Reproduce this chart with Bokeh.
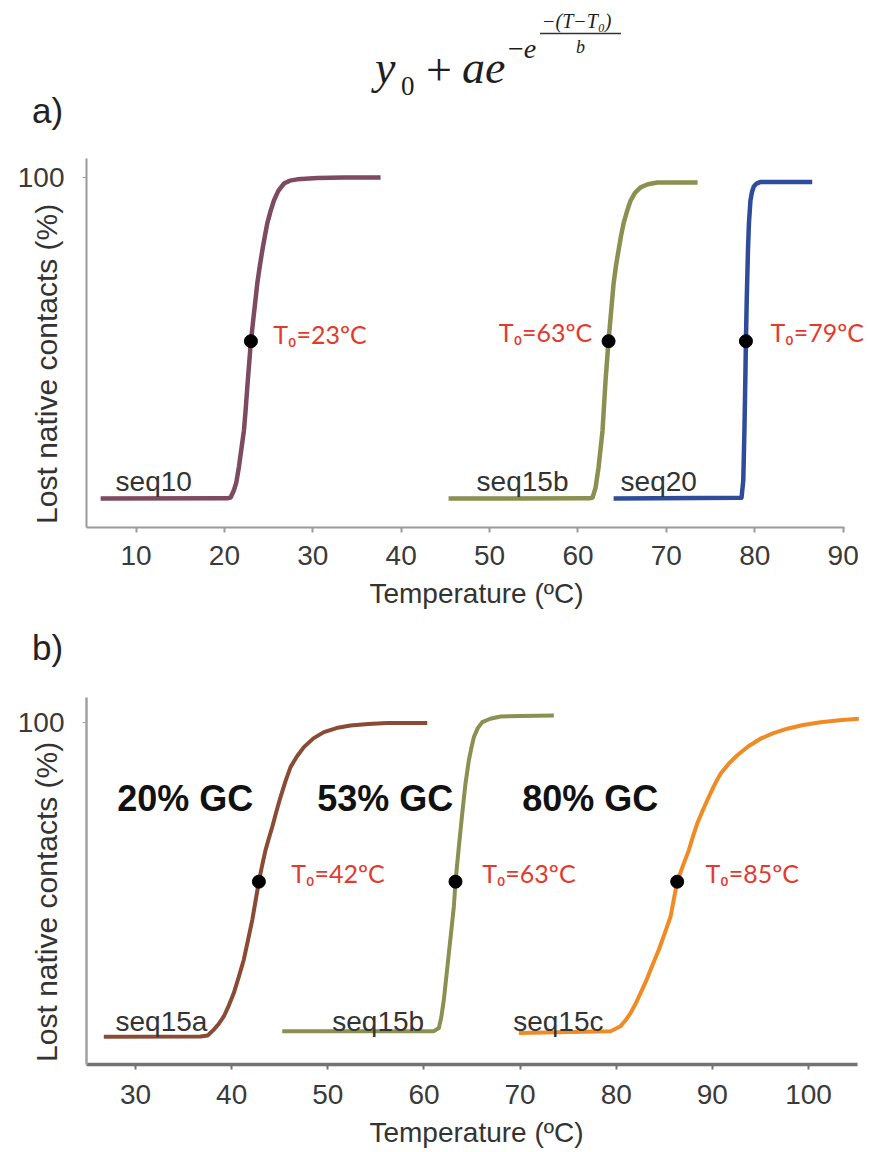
from bokeh.plotting import figure
from bokeh.layouts import column
from bokeh.models import Range1d, FixedTicker, Div
from bokeh.core.properties import value
from bokeh.embed import file_html
from bokeh.resources import INLINE

# ---------------- data: panel a ----------------
seq10_T = [6.0, 20.3, 20.7, 21.07, 21.35, 21.64, 21.9, 22.21, 22.4, 22.6, 23.0, 23.3, 23.5, 23.72, 24.0,
           24.29, 24.55, 24.85, 25.2, 25.6, 26.1, 26.73, 27.4, 28.24, 30.5, 33.5, 37.67]
seq10_y = [0, 0.05, 0.3, 2.5, 5.0, 9.8, 15.0, 21.2, 27.5, 35.0, 49.0, 56.5, 61.5, 67.0, 72.3,
           77.3, 81.3, 85.7, 89.3, 92.8, 95.8, 98.1, 99.0, 99.4, 99.8, 99.95, 100]

seq15b_a_T = [45.36, 61.3, 61.65, 61.99, 62.33, 62.78, 63.12, 63.46, 63.69, 64.03, 64.3, 64.59, 64.87,
              65.16, 65.55, 65.95, 66.45, 67.08, 67.9, 69.0, 71.0, 73.53]
seq15b_a_y = [0, 0.05, 0.3, 3.4, 9.7, 21.2, 36.8, 49.2, 56.4, 67.0, 72.5, 77.3, 81.8,
              85.7, 89.5, 92.8, 95.2, 96.9, 97.9, 98.4, 98.4, 98.4]

seq20_T = [64.03, 78.5, 78.70, 78.83, 78.93, 79.0, 79.09, 79.23, 79.34, 79.51, 79.68, 79.89, 80.2, 80.66, 86.5]
seq20_y = [0, 0.2, 5.6, 21.2, 36.8, 49.2, 61.7, 77.3, 85.7, 92.8, 95.4, 97.2, 98.1, 98.6, 98.6]

a_dot_T = [23.0, 63.46, 79.0]
a_dot_y = [49, 49, 49]
a_t0_text = ["T₀=23ºC", "T₀=63ºC", "T₀=79ºC"]
a_t0_T = [25.53, 51.05, 81.79]
a_t0_y = [51.3, 51.8, 51.8]
a_seq_names = ["seq10", "seq15b", "seq20"]
a_seq_T = [7.69, 48.53, 64.82]
a_seq_y = [5.4, 5.4, 5.4]
a_xticks = [10, 20, 30, 40, 50, 60, 70, 80, 90]

# ---------------- data: panel b ----------------
seq15a_T = [26.7, 36.76, 37.5, 38.14, 38.65, 39.18, 39.7, 40.22, 40.74, 41.26, 41.7, 42.14, 42.83, 43.17,
            43.52, 43.87, 44.22, 44.65, 45.08, 45.6, 46.12, 46.8, 47.51, 48.5, 49.59, 50.9, 52.36, 54.2,
            56.18, 60.34]
seq15a_y = [-0.7, -0.6, -0.3, 1.6, 3.4, 5.8, 9.3, 13.3, 18.5, 24.0, 30.3, 36.7, 49.0, 54.2,
            59.1, 62.9, 66.5, 71.5, 76.1, 81.2, 85.7, 89.2, 92.1, 94.9, 96.9, 98.2, 99.0, 99.5,
            99.8, 99.8]

seq15b_b_T = [45.26, 61.03, 61.55, 61.8, 62.07, 62.59, 62.85, 63.11, 63.28, 63.63, 63.98, 64.32, 64.67,
              64.93, 65.19, 65.6, 66.06, 66.9, 67.97, 70.0, 73.51]
seq15b_b_y = [1.1, 1.1, 2.1, 5.5, 11.2, 26.1, 33.5, 41.0, 49.0, 60.2, 70.8, 80.4, 87.9,
              91.8, 95.3, 98.2, 100.1, 101.2, 101.9, 102.1, 102.2]

seq15c_T = [69.87, 79.41, 80.45, 80.95, 81.49, 82.0, 82.53, 83.05, 83.57, 84.0, 84.43, 85.05, 85.65, 86.34,
            86.95, 87.55, 87.98, 88.42, 88.95, 89.47, 90.15, 90.85, 91.7, 92.59, 93.75, 95.01, 96.35,
            97.79, 99.45, 101.25, 103.2, 105.23]
seq15c_y = [0.5, 1.1, 2.7, 4.5, 6.9, 9.8, 13.3, 16.8, 20.8, 24.0, 27.2, 32.5, 37.8, 49.0,
            54.2, 59.1, 63.5, 67.6, 71.5, 75.1, 79.6, 83.6, 86.8, 89.5, 92.4, 94.8, 96.6,
            98.0, 99.2, 100.1, 100.7, 101.2]

b_dot_T = [42.83, 63.28, 86.34]
b_dot_y = [49, 49, 49]
b_t0_text = ["T₀=42ºC", "T₀=63ºC", "T₀=85ºC"]
b_t0_T = [46.20, 66.06, 89.29]
b_t0_y = [51.7, 51.7, 51.7]
b_seq_names = ["seq15a", "seq15b", "seq15c"]
b_seq_T = [27.92, 50.46, 69.28]
b_seq_y = [4.25, 4.25, 4.25]
b_gc_text = ["20% GC", "53% GC", "80% GC"]
b_gc_T = [28.10, 48.90, 70.22]
b_gc_y = [75.7, 75.7, 75.7]
b_xticks = [30, 40, 50, 60, 70, 80, 90, 100]

y_ticks = [100]
x_label = "Temperature (ºC)"
y_label = "Lost native contacts (%)"

C_SEQ10 = "#7D4A5F"
C_OLIVE = "#8A9050"
C_BLUE = "#2E4C9A"
C_BROWN = "#8A4B35"
C_ORANGE = "#F28A24"
C_RED = "#E23B2E"

W = 866
SANS = "Liberation Sans"
NBSP = "\u00a0"


def make_panel(height, xr, xbound_end, yr, b_left, b_top, b_bottom, xticks,
               xcol, xw, ycol, yw, tick_standoff, title_standoff, ylab_pad):
    p = figure(width=W, height=height, x_range=Range1d(*xr), y_range=Range1d(*yr),
               output_backend="svg", toolbar_location=None,
               min_border_left=b_left, min_border_right=0,
               min_border_top=b_top, min_border_bottom=b_bottom,
               outline_line_color=None, background_fill_color="white",
               border_fill_color="white")
    p.xgrid.visible = False
    p.ygrid.visible = False
    xa = p.xaxis[0]
    ya = p.yaxis[0]
    xa.bounds = (xr[0], xbound_end)
    xa.ticker = FixedTicker(ticks=xticks)
    xa.minor_tick_line_color = None
    xa.major_tick_in = 0
    xa.major_tick_out = 5
    xa.major_tick_line_color = xcol
    xa.major_tick_line_width = 2
    xa.axis_line_color = xcol
    xa.axis_line_width = xw
    xa.major_label_text_font = SANS
    xa.major_label_text_font_size = "28px"
    xa.major_label_text_color = "#3a3a3a"
    xa.major_label_standoff = tick_standoff
    xa.axis_label = x_label
    xa.axis_label_text_font = SANS
    xa.axis_label_text_font_size = "28px"
    xa.axis_label_text_font_style = "normal"
    xa.axis_label_text_color = "#333333"
    xa.axis_label_standoff = title_standoff

    ya.ticker = FixedTicker(ticks=y_ticks)
    ya.minor_tick_line_color = None
    ya.major_tick_in = 0
    ya.major_tick_out = 4
    ya.major_tick_line_color = ycol
    ya.axis_line_color = ycol
    ya.axis_line_width = yw
    ya.major_label_text_font = SANS
    ya.major_label_text_font_size = "28px"
    ya.major_label_text_color = "#3a3a3a"
    ya.major_label_standoff = 18
    ya.axis_label = y_label + NBSP * ylab_pad
    ya.axis_label_text_font = SANS
    ya.axis_label_text_font_size = "30px"
    ya.axis_label_text_font_style = "normal"
    ya.axis_label_text_color = "#333333"
    ya.axis_label_standoff = -48
    return p


def add_texts(p, xs, ys, texts, size, color, font=SANS, style="normal"):
    p.text(x=xs, y=ys, text=texts, text_font=value(font), text_font_size=value(size),
           text_font_style=style, text_color=color, text_align="left",
           text_baseline="alphabetic")


# ---------------- header with formula and "a)" ----------------
SER = "font-family:'Liberation Serif',serif;fill:#1e1e1e;"
formula_svg = f"""
<svg xmlns="http://www.w3.org/2000/svg" width="{W}" height="140" style="display:block">
  <text x="375" y="83" style="{SER}font-size:46px;font-style:italic">y</text>
  <text x="401" y="95" style="{SER}font-size:27px;font-style:normal">0</text>
  <text x="426" y="85" style="{SER}font-size:46px;font-style:normal">+</text>
  <text x="462" y="83" style="{SER}font-size:46px;font-style:italic">ae</text>
  <text x="508" y="58" style="{SER}font-size:28px;font-style:normal">−<tspan style="font-style:italic">e</tspan></text>
  <text x="542" y="28" style="{SER}font-size:20px;font-style:italic">−(T−T₀)</text>
  <line x1="540" y1="33.5" x2="621" y2="33.5" stroke="#333333" stroke-width="1.5"/>
  <text x="576" y="53" style="{SER}font-size:18px;font-style:italic">b</text>
  <text x="32" y="123" style="font-family:'Liberation Sans',sans-serif;font-size:35px;fill:#222222">a)</text>
</svg>
"""
hdr = Div(text=formula_svg, width=W, height=140, styles={"margin": "0", "padding": "0"})

# ---------------- panel a ----------------
pa = make_panel(480, (4.40, 92.64), 90.15, (-9.03, 105.9), 86, 18, 93, a_xticks,
                "#9a9a9a", 2, "#9a9a9a", 2, 13, 10, 5)
pa.line(seq10_T, seq10_y, line_color=C_SEQ10, line_width=4.5, line_join="round")
pa.line(seq15b_a_T, seq15b_a_y, line_color=C_OLIVE, line_width=4.5, line_join="round")
pa.line(seq20_T, seq20_y, line_color=C_BLUE, line_width=4.5, line_join="round")
pa.scatter(a_dot_T, a_dot_y, size=13, color="black")
add_texts(pa, a_t0_T, a_t0_y, a_t0_text, "25px", C_RED, "Lato")
add_texts(pa, a_seq_T, a_seq_y, a_seq_names, "28px", "#333333")

# ---------------- header "b)" ----------------
b_svg = f"""
<svg xmlns="http://www.w3.org/2000/svg" width="{W}" height="60" style="display:block">
  <text x="32" y="40" style="font-family:'Liberation Sans',sans-serif;font-size:35px;fill:#222222">b)</text>
</svg>
"""
hdr_b = Div(text=b_svg, width=W, height=60, styles={"margin": "0", "padding": "0"})

# ---------------- panel b ----------------
pb = make_panel(470, (24.90, 106.03), 105.1, (-9.58, 108.0), 86, 17, 85, b_xticks,
                "#727272", 3.5, "#a0a0a0", 2.5, 15, 10, 5)
pb.line(seq15a_T, seq15a_y, line_color=C_BROWN, line_width=4, line_join="round")
pb.line(seq15b_b_T, seq15b_b_y, line_color=C_OLIVE, line_width=4, line_join="round")
pb.line(seq15c_T, seq15c_y, line_color=C_ORANGE, line_width=4, line_join="round")
pb.scatter(b_dot_T, b_dot_y, size=13, color="black")
add_texts(pb, b_t0_T, b_t0_y, b_t0_text, "25px", C_RED, "Lato")
add_texts(pb, b_seq_T, b_seq_y, b_seq_names, "28px", "#333333")
add_texts(pb, b_gc_T, b_gc_y, b_gc_text, "36px", "#111111", SANS, "bold")

layout = column(hdr, pa, hdr_b, pb, spacing=0)
open("out.html", "w").write(file_html(layout, INLINE))
